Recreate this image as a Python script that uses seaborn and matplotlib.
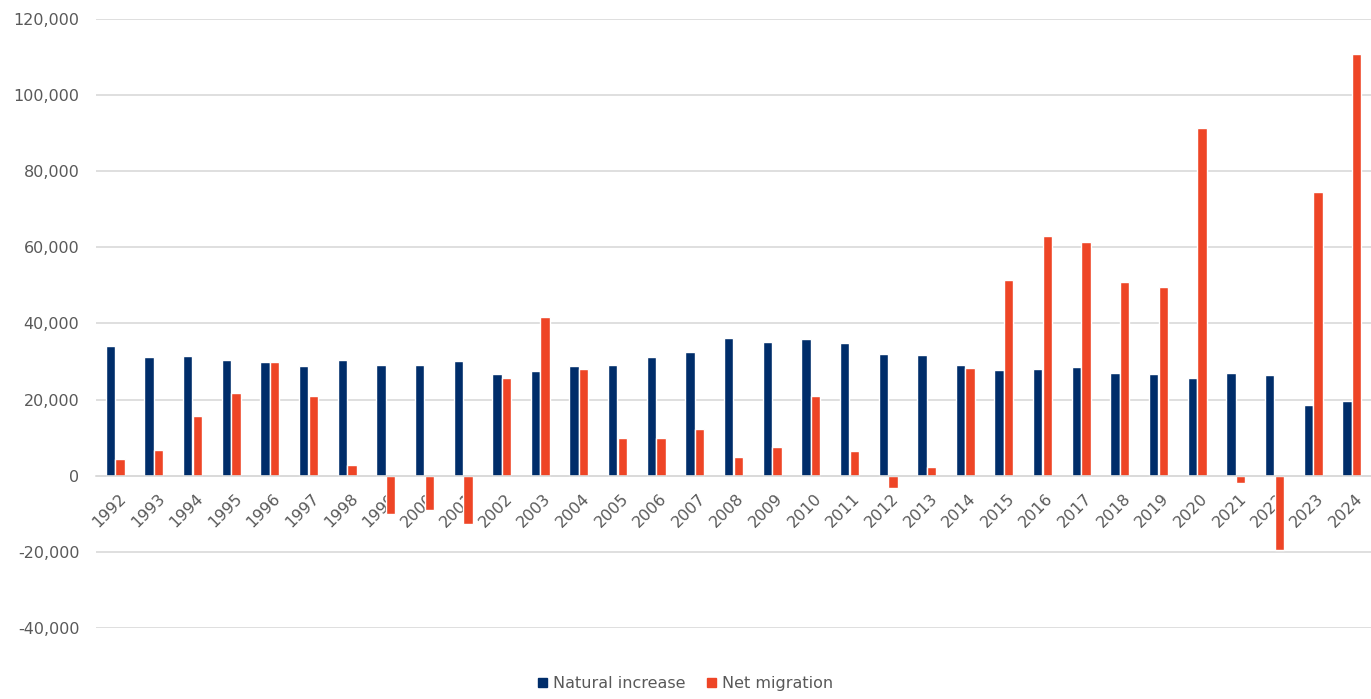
import matplotlib
matplotlib.use("Agg")
import matplotlib.pyplot as plt
from matplotlib.ticker import FuncFormatter
from matplotlib.transforms import ScaledTranslation
import seaborn as sns
import pandas as pd

years = [str(y) for y in range(1992, 2025)]
natural_increase = [
    34100, 31100, 31500, 30400, 29800, 28800, 30400, 29100, 29100, 30200,
    26700, 27400, 28800, 29100, 31100, 32500, 36200, 35200, 35900, 34800,
    32100, 31700, 29000, 27700, 28100, 28700, 27000, 26700, 25700, 27000,
    26400, 18600, 19600,
]
net_migration = [
    4500, 6800, 15700, 21700, 29800, 21000, 2800, -10000, -8900, -12700,
    25700, 41600, 28100, 9900, 9900, 12200, 4800, 7500, 21000, 6500,
    -3200, 2400, 28300, 51300, 63100, 61400, 50900, 49600, 91400, -2000,
    -19400, 74500, 110900,
]
series_names = ["Natural increase", "Net migration"]
colors = ["#002D6A", "#EE4526"]

df = pd.DataFrame({
    "year": years * 2,
    "value": natural_increase + net_migration,
    "series": [series_names[0]] * len(years) + [series_names[1]] * len(years),
})

sns.set_theme(style="white")
plt.rcParams["font.family"] = ["DejaVu Sans"]
text_color = "#595959"
grid_color = "#D9D9D9"

fig = plt.figure(figsize=(13.71, 6.99), dpi=100)
ax = fig.add_axes([0.070, 0.1016, 0.930, 0.8712])

sns.barplot(
    data=df, x="year", y="value", hue="series", hue_order=series_names,
    palette=colors, width=0.5, gap=0.03, ax=ax, legend=False,
    saturation=1, errorbar=None,
)

ax.set_ylim(-40000, 120000)
ax.set_yticks(range(-40000, 120001, 20000))
ax.yaxis.set_major_formatter(FuncFormatter(lambda v, p: f"{int(v):,}"))
ax.grid(axis="y", color=grid_color, linewidth=1.2)
ax.set_axisbelow(True)
ax.set_xlabel("")
ax.set_ylabel("")

for side in ["top", "right", "left"]:
    ax.spines[side].set_visible(False)
ax.spines["bottom"].set_position(("data", 0))
ax.spines["bottom"].set_color(grid_color)
ax.spines["bottom"].set_linewidth(1.2)

ax.tick_params(axis="both", length=0, colors=text_color, labelsize=11.5)
ax.tick_params(axis="y", pad=12)
ax.tick_params(axis="x", pad=11)
shift = ScaledTranslation(3 / 100, 0, fig.dpi_scale_trans)
for lbl in ax.get_xticklabels():
    lbl.set_rotation(45)
    lbl.set_ha("right")
    lbl.set_rotation_mode("anchor")
    lbl.set_color(text_color)
    lbl.set_transform(lbl.get_transform() + shift)

handles = [plt.Rectangle((0, 0), 1, 1, color=c) for c in colors]
fig.legend(
    handles, series_names, loc="center", bbox_to_anchor=(0.5, 0.022),
    ncol=2, frameon=False, fontsize=11.5, handlelength=0.55,
    handleheight=0.55, handletextpad=0.35, columnspacing=1.4,
    labelcolor=text_color,
)

fig.savefig("out.png", dpi=100)
